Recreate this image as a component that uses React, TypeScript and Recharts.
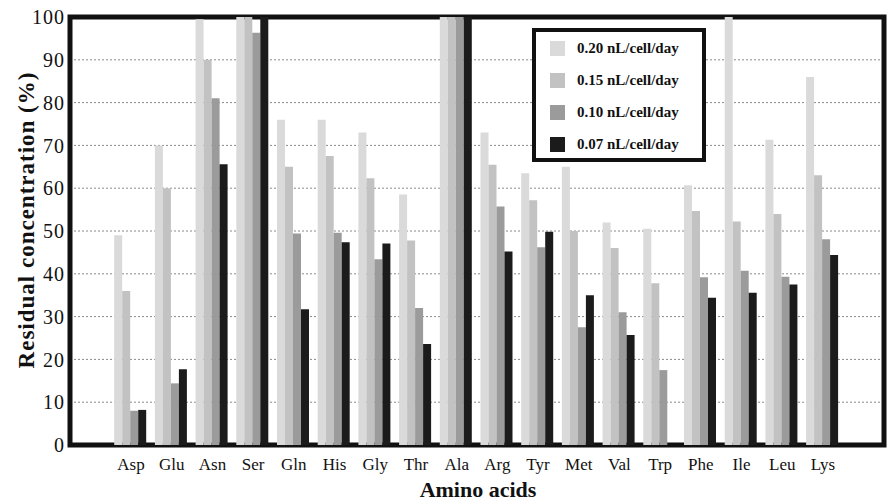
import {
  Bar,
  BarChart,
  CartesianGrid,
  Label,
  Legend,
  ReferenceArea,
  XAxis,
  YAxis,
} from "recharts";

const aminoAcids = [
  "Asp", "Glu", "Asn", "Ser", "Gln", "His", "Gly", "Thr", "Ala",
  "Arg", "Tyr", "Met", "Val", "Trp", "Phe", "Ile", "Leu", "Lys",
];

// residual concentration (%) per perfusion rate
const rate020 = [49, 70, 99.5, 100, 76, 76, 73, 58.5, 100, 73, 63.5, 65, 52, 50.5, 60.7, 100, 71.3, 86];
const rate015 = [36, 60, 90, 100, 65, 67.5, 62.3, 47.8, 100, 65.5, 57.2, 50, 46, 37.8, 54.7, 52.2, 54, 63];
const rate010 = [8, 14.4, 81, 96.3, 49.4, 49.6, 43.4, 32, 100, 55.7, 46.2, 27.5, 31, 17.5, 39.2, 40.7, 39.3, 48.1];
const rate007 = [8.2, 17.7, 65.6, 100, 31.7, 47.4, 47.1, 23.6, 100, 45.2, 49.8, 35, 25.7, 0, 34.4, 35.6, 37.5, 44.4];

const seriesKeys = ["r020", "r015", "r010", "r007"];
const seriesNames = [
  "0.20 nL/cell/day",
  "0.15 nL/cell/day",
  "0.10 nL/cell/day",
  "0.07 nL/cell/day",
];
const seriesColors = ["#dadada", "#c2c2c2", "#9b9b9b", "#1b1b1b"];
const yTicks = [0, 10, 20, 30, 40, 50, 60, 70, 80, 90, 100];

const font = "'Liberation Serif', 'Times New Roman', serif";

// empty slot at each end, like the original plot
const data = [
  { name: " " },
  ...aminoAcids.map((name, i) => ({
    name,
    r020: rate020[i],
    r015: rate015[i],
    r010: rate010[i],
    r007: rate007[i],
  })),
  { name: "  " },
];

function LegendBox() {
  return (
    <div
      style={{
        width: 166,
        height: 126,
        border: "4px solid #111",
        background: "#fff",
        fontFamily: font,
        fontWeight: "bold",
        fontSize: 15,
        color: "#111",
      }}
    >
      {seriesNames.map((n, i) => (
        <div
          key={n}
          style={{ display: "flex", alignItems: "center", height: 32, paddingLeft: 14 }}
        >
          <span
            style={{ width: 15, height: 15, background: seriesColors[i], marginRight: 12, display: "inline-block" }}
          />
          <span>{n}</span>
        </div>
      ))}
    </div>
  );
}

export default function App() {
  return (
    <div style={{ position: "absolute", left: 0, top: 0, background: "#fff", fontFamily: font }}>
      <BarChart
        width={887}
        height={502}
        data={data}
        margin={{ top: 17, right: 3, bottom: 0, left: 0 }}
        barCategoryGap={3.5}
        barGap={0}
      >
        <CartesianGrid vertical={false} stroke="#8a8a8a" strokeDasharray="2 2" />
        <XAxis
          dataKey="name"
          height={57}
          interval={0}
          axisLine={false}
          tickLine={false}
          tickSize={0}
          tickMargin={13}
          tick={{ fontFamily: font, fontSize: 17, fill: "#111" }}
        >
          <Label
            content={() => (
              <text
                x={478}
                y={497}
                textAnchor="middle"
                fontFamily={font}
                fontWeight="bold"
                fontSize={22}
                fill="#111"
              >
                Amino acids
              </text>
            )}
          />
        </XAxis>
        <YAxis
          type="number"
          domain={[0, 100]}
          ticks={yTicks}
          width={70}
          axisLine={false}
          tickLine={false}
          tickSize={0}
          tickMargin={5}
          tick={{ fontFamily: font, fontSize: 20, fill: "#111", letterSpacing: 1 }}
        >
          <Label
            content={() => (
              <text
                x={0}
                y={0}
                transform="translate(34,220) rotate(-90)"
                textAnchor="middle"
                fontFamily={font}
                fontWeight="bold"
                fontSize={23}
                letterSpacing={1}
                fill="#111"
              >
                Residual concentration (%)
              </text>
            )}
          />
        </YAxis>
        <ReferenceArea y1={0} y2={100} fill="none" stroke="#111" strokeWidth={5} />
        {seriesKeys.map((k, i) => (
          <Bar
            key={k}
            dataKey={k}
            name={seriesNames[i]}
            fill={seriesColors[i]}
            isAnimationActive={false}
          />
        ))}
        <Legend
          layout="vertical"
          align="center"
          verticalAlign="middle"
          content={<LegendBox />}
          wrapperStyle={{ left: 532, top: 28, width: 174, height: 134 }}
        />
      </BarChart>
    </div>
  );
}
